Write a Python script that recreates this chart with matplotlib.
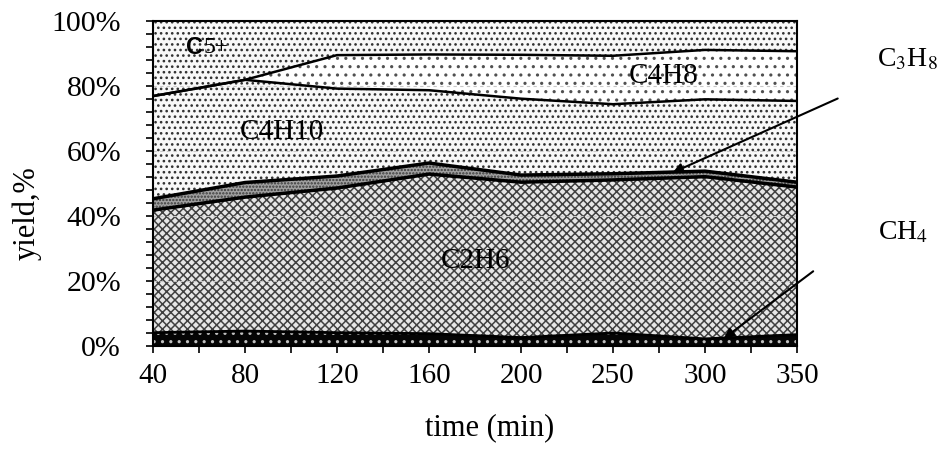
import matplotlib
matplotlib.use("Agg")
import matplotlib.pyplot as plt
import numpy as np

# ---- data (per-component yield %) ----
time_labels = ["40", "80", "120", "160", "200", "250", "300", "350"]
ch4   = [4.1, 4.6, 4.1, 3.8, 2.6, 4.0, 2.2, 3.5]
c2h6  = [37.7, 41.2, 44.5, 49.1, 47.8, 47.1, 49.9, 45.4]
c3h8  = [3.5, 4.5, 3.7, 3.4, 2.2, 1.9, 1.7, 1.5]
c4h10 = [31.6, 31.6, 26.9, 22.4, 23.5, 21.4, 22.1, 25.0]
c4h8  = [0.0, 0.0, 10.3, 11.0, 13.5, 14.9, 15.2, 15.3]
c5p   = [23.1, 18.1, 10.5, 10.3, 10.4, 10.7, 8.9, 9.3]
ytick_labels = ["0%", "20%", "40%", "60%", "80%", "100%"]
yticks = [0, 20, 40, 60, 80, 100]

plt.rcParams['font.family'] = ['Liberation Serif', 'DejaVu Serif']
plt.rcParams['mathtext.fontset'] = 'stix'
plt.rcParams['hatch.linewidth'] = 1.1

fig = plt.figure(figsize=(9.46, 4.68), dpi=100)
ax = fig.add_axes([153/946, 1-346/468, (797-153)/946, (346-21)/468])

x = np.arange(len(time_labels))
layers = [ch4, c2h6, c3h8, c4h10, c4h8, c5p]
styles = [
    dict(facecolor='#050505', edgecolor='#c0c0c0', hatch='..'),
    dict(facecolor='#e6e6e6', edgecolor='#404040', hatch='xxxx'),
    dict(facecolor='#a0a0a0', edgecolor='#3a3a3a', hatch='.....'),
    dict(facecolor='#f8f8f8', edgecolor='#303030', hatch='...'),
    dict(facecolor='white', edgecolor='#505050', hatch='..'),
    dict(facecolor='#f8f8f8', edgecolor='#303030', hatch='...'),
]
lws = [2.0, 2.5, 2.5, 1.8, 1.8, 0]
bottom = np.zeros(len(x))
for vals, st, lw in zip(layers, styles, lws):
    top = bottom + np.array(vals)
    ax.fill_between(x, bottom, top, linewidth=0, zorder=1, **st)
    bottom = top

# gridlines
for g in [20, 40, 60, 80]:
    ax.axhline(g, color='#c8c8c8', lw=0.8, ls=(0, (3, 3)), zorder=2)

bottom = np.zeros(len(x))
for vals, lw in zip(layers, lws):
    top = bottom + np.array(vals)
    if lw > 0:
        ax.plot(x, top, color='black', lw=lw, zorder=3, solid_joinstyle='round')
    bottom = top

ax.set_xlim(0, len(x) - 1)
ax.set_ylim(0, 100)
ax.set_xticks(x)
ax.set_xticklabels(time_labels, fontsize=21)
ax.set_xticks(np.arange(0, len(x) - 0.9, 0.5), minor=True)
ax.set_yticks(yticks)
ax.set_yticklabels(ytick_labels, fontsize=21.5)
ax.set_yticks(np.arange(0, 101, 4), minor=True)
ax.tick_params(axis='both', which='both', direction='out', length=5, width=1.2, color='black')
ax.tick_params(axis='x', which='major', pad=7)
ax.tick_params(axis='y', which='major', pad=18)
for s in ax.spines.values():
    s.set_linewidth(1.5)
    s.set_zorder(5)

ax.set_ylabel("yield,%", fontsize=22, va='center')
ax.yaxis.set_label_coords(-0.195, 0.41)
ax.set_xlabel("time (min)", fontsize=22, va='center')
ax.xaxis.set_label_coords(0.523, -0.252)

# in-area labels
ax.text(0.36, 92, "C", fontsize=17, fontweight='bold', family='Liberation Sans',
        ha='left', va='center', zorder=6)
ax.text(0.55, 92, "5+", fontsize=17, ha='left', va='center', zorder=6)
ax.text(1.4, 66, "C4H10", fontsize=21, ha='center', va='center', zorder=6)
ax.text(5.55, 83, "C4H8", fontsize=21, ha='center', va='center', zorder=6)
ax.text(3.5, 26, "C2H6", fontsize=21, ha='center', va='center', zorder=6)

# outside labels with arrows
ax.text(8.2, 88, r"C$_3$H$_8$", fontsize=20, ha='center', va='center', clip_on=False)
ax.text(8.15, 35, r"CH$_4$", fontsize=20, ha='center', va='center', clip_on=False)
ax.annotate("", xy=(5.62, 53.0), xytext=(7.47, 76.5), annotation_clip=False,
            arrowprops=dict(arrowstyle='-|>', color='black', lw=1.5, mutation_scale=15),
            zorder=7)
ax.annotate("", xy=(6.18, 1.8), xytext=(7.2, 23.5), annotation_clip=False,
            arrowprops=dict(arrowstyle='-|>', color='black', lw=1.5, mutation_scale=15),
            zorder=7)

fig.savefig("out.png", dpi=100)
